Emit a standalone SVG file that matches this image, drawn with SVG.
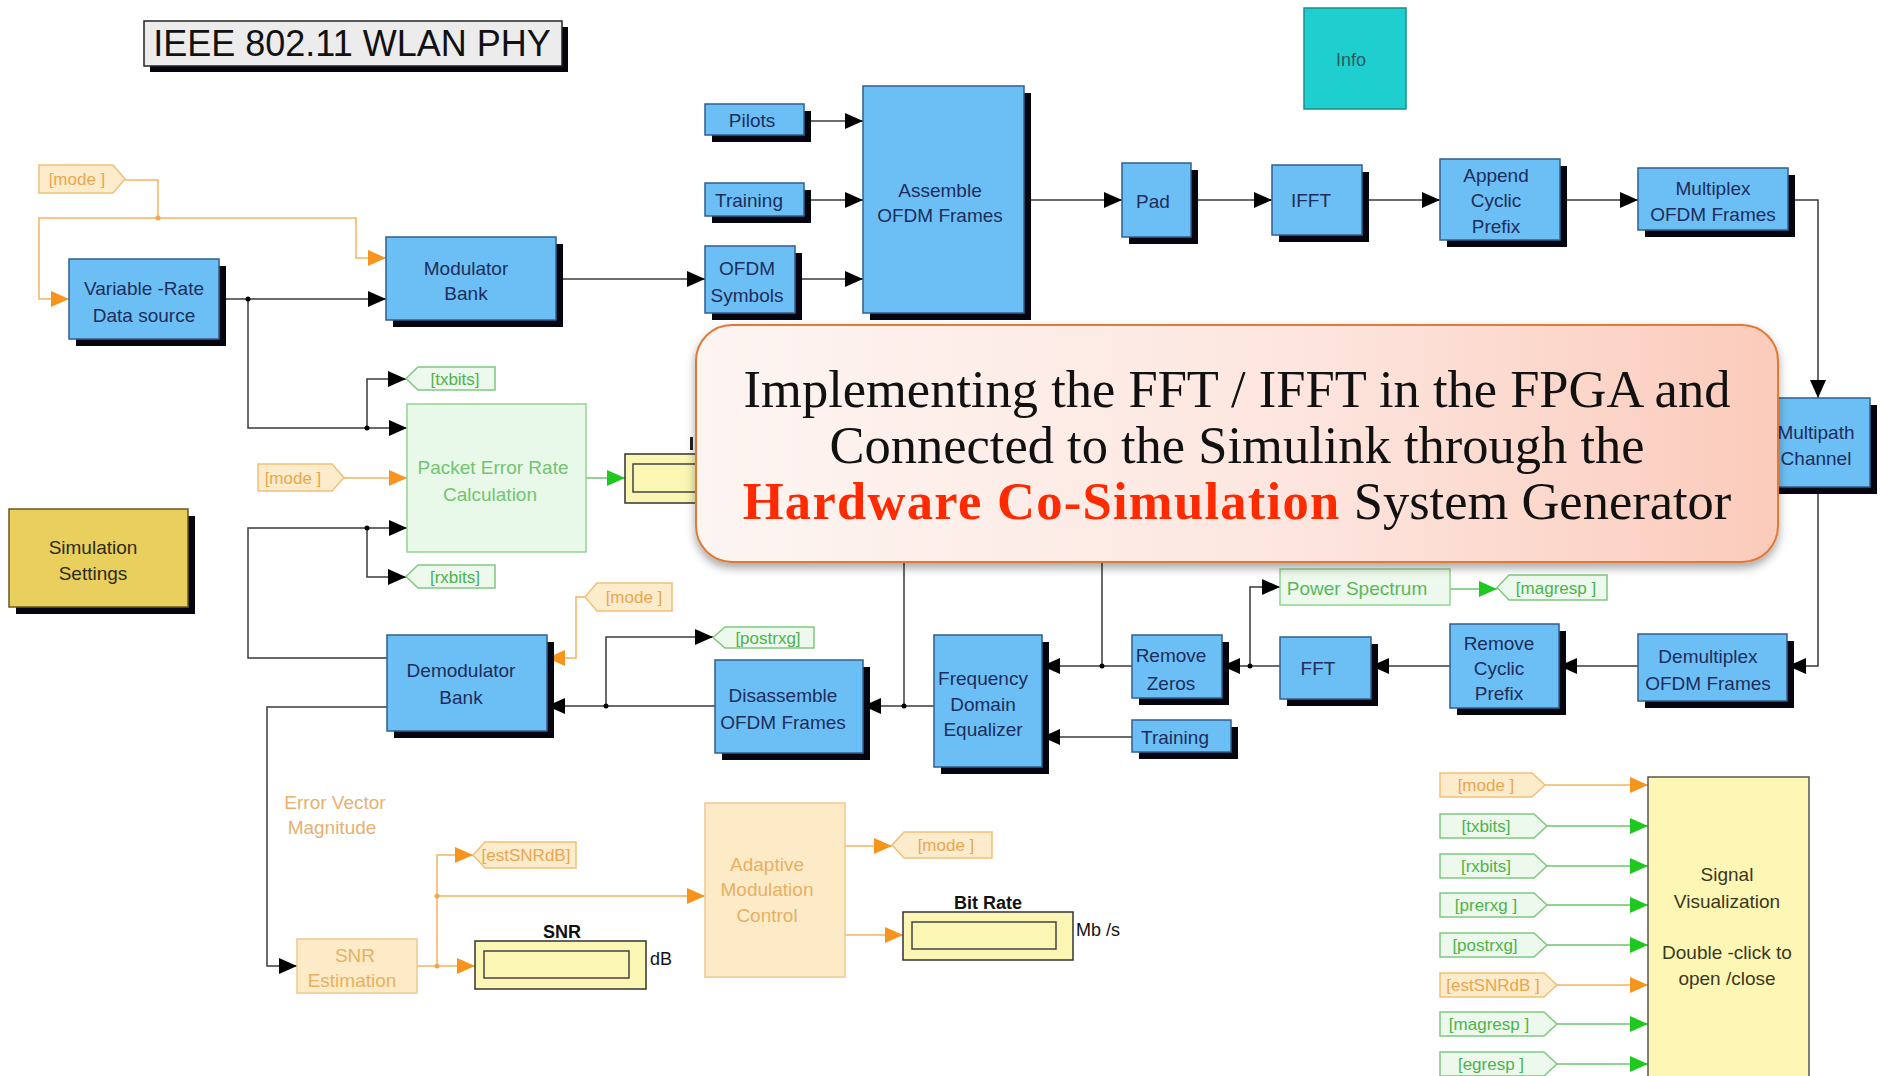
<svg xmlns="http://www.w3.org/2000/svg" width="1887" height="1076" viewBox="0 0 1887 1076">
<defs>
  <style>
    .face{fill:#6cbff4;stroke:#2f5f8f;stroke-width:1.5}
    .shd{fill:#05050f}
    .bt{font-family:"Liberation Sans",Arial,sans-serif;font-size:19px;fill:#1d2d5c;text-anchor:middle}
    .wire{fill:none;stroke:#3a3a3a;stroke-width:1.5}
    .wo{fill:none;stroke:#f2b45e;stroke-width:1.5}
    .wg{fill:none;stroke:#6cc46c;stroke-width:1.5}
    .tago{fill:#fdeccb;stroke:#f0c078;stroke-width:1.5}
    .tagg{fill:#ecf9ec;stroke:#80c880;stroke-width:1.5}
    .tt{font-family:"Liberation Sans",Arial,sans-serif;font-size:17px;text-anchor:middle}
    .tto{fill:#eaa64e}
    .ttg{fill:#4db34d}
    .disp{fill:#fbf6b4;stroke:#333;stroke-width:1.5}
    .dispin{fill:#fbf6b4;stroke:#444;stroke-width:1.5}
    .lbl{font-family:"Liberation Sans",Arial,sans-serif;font-size:18px;fill:#111}
    .co{font-family:"Liberation Serif","Times New Roman",serif;font-size:52.5px;fill:#111;text-anchor:middle}
  </style>
  <marker id="ab" viewBox="0 0 18 16" refX="18" refY="8" markerWidth="18" markerHeight="16" markerUnits="userSpaceOnUse" orient="auto"><path d="M0,0L18,8L0,16z" fill="#000"/></marker>
  <marker id="ao" viewBox="0 0 18 16" refX="18" refY="8" markerWidth="18" markerHeight="16" markerUnits="userSpaceOnUse" orient="auto"><path d="M0,0L18,8L0,16z" fill="#f7941d"/></marker>
  <marker id="ag" viewBox="0 0 18 16" refX="18" refY="8" markerWidth="18" markerHeight="16" markerUnits="userSpaceOnUse" orient="auto"><path d="M0,0L18,8L0,16z" fill="#1ec81e"/></marker>
  <linearGradient id="coFill" x1="0" y1="0" x2="1" y2="0">
    <stop offset="0" stop-color="#fdf5f2"/>
    <stop offset="0.55" stop-color="#fde6df"/>
    <stop offset="1" stop-color="#fbcbbb"/>
  </linearGradient>
  <filter id="coShadow" x="-5%" y="-10%" width="110%" height="130%">
    <feDropShadow dx="0" dy="5" stdDeviation="5" flood-color="#000" flood-opacity="0.35"/>
  </filter>
</defs>

<rect width="1887" height="1076" fill="#ffffff"/>

<!-- title banner -->
<g id="title">
  <rect x="150" y="27" width="418" height="45" class="shd"/>
  <rect x="144" y="21" width="418" height="45" fill="#ececec" stroke="#222" stroke-width="1.5"/>
  <text x="352" y="56" font-family="Liberation Sans, Arial, sans-serif" font-size="36" fill="#111" text-anchor="middle">IEEE 802.11 WLAN PHY</text>
</g>

<g id="info">
  <rect x="1304" y="8" width="102" height="101" fill="#1fcfcf" stroke="#168f8f" stroke-width="1.5"/>
  <text x="1351" y="66" font-family="Liberation Sans, Arial, sans-serif" font-size="18" fill="#2a5a60" text-anchor="middle">Info</text>
</g>

<!-- connectors -->
<g id="connectors">
  <!-- transmitter, black -->
  <path class="wire" d="M219,299H386" marker-end="url(#ab)"/>
  <path class="wire" d="M248,299V428H407" marker-end="url(#ab)"/>
  <path class="wire" d="M367,428V379H406" marker-end="url(#ab)"/>
  <path class="wire" d="M556,279H705" marker-end="url(#ab)"/>
  <path class="wire" d="M804,121H863" marker-end="url(#ab)"/>
  <path class="wire" d="M804,200H863" marker-end="url(#ab)"/>
  <path class="wire" d="M795,279H863" marker-end="url(#ab)"/>
  <path class="wire" d="M1024,200H1122" marker-end="url(#ab)"/>
  <path class="wire" d="M1191,200H1272" marker-end="url(#ab)"/>
  <path class="wire" d="M1362,200H1440" marker-end="url(#ab)"/>
  <path class="wire" d="M1560,200H1638" marker-end="url(#ab)"/>
  <path class="wire" d="M1788,200H1818V398" marker-end="url(#ab)"/>
  <!-- receiver, black -->
  <path class="wire" d="M1818,487V666H1788" marker-end="url(#ab)"/>
  <path class="wire" d="M1638,666H1559" marker-end="url(#ab)"/>
  <path class="wire" d="M1450,666H1371" marker-end="url(#ab)"/>
  <path class="wire" d="M1280,666H1222" marker-end="url(#ab)"/>
  <path class="wire" d="M1250,666V587H1280" marker-end="url(#ab)"/>
  <path class="wire" d="M1132,666H1042" marker-end="url(#ab)"/>
  <path class="wire" d="M1102,666V500"/>
  <path class="wire" d="M1132,737H1042" marker-end="url(#ab)"/>
  <path class="wire" d="M934,706H863" marker-end="url(#ab)"/>
  <path class="wire" d="M904,706V500"/>
  <path class="wire" d="M715,706H547" marker-end="url(#ab)"/>
  <path class="wire" d="M606,706V637H713" marker-end="url(#ab)"/>
  <path class="wire" d="M387,658H248V528H407" marker-end="url(#ab)"/>
  <path class="wire" d="M367,528V577H406" marker-end="url(#ab)"/>
  <path class="wire" d="M387,707H267V966H297" marker-end="url(#ab)"/>
  <!-- mode / SNR signals, orange -->
  <path class="wo" d="M125,180H158V218"/>
  <path class="wo" d="M158,218H356V258H386" marker-end="url(#ao)"/>
  <path class="wo" d="M158,218H39V299H69" marker-end="url(#ao)"/>
  <path class="wo" d="M344,478H407" marker-end="url(#ao)"/>
  <path class="wo" d="M585,597H576V658H547" marker-end="url(#ao)"/>
  <path class="wo" d="M417,966H475" marker-end="url(#ao)"/>
  <path class="wo" d="M437,966V855H473" marker-end="url(#ao)"/>
  <path class="wo" d="M437,896H705" marker-end="url(#ao)"/>
  <path class="wo" d="M845,846H892" marker-end="url(#ao)"/>
  <path class="wo" d="M845,935H903" marker-end="url(#ao)"/>
  <path class="wo" d="M1545,785H1648" marker-end="url(#ao)"/>
  <path class="wo" d="M1557,985H1648" marker-end="url(#ao)"/>
  <!-- measurement signals, green -->
  <path class="wg" d="M586,478H625" marker-end="url(#ag)"/>
  <path class="wg" d="M1450,589H1497" marker-end="url(#ag)"/>
  <path class="wg" d="M1547,826H1648" marker-end="url(#ag)"/>
  <path class="wg" d="M1547,866H1648" marker-end="url(#ag)"/>
  <path class="wg" d="M1547,905H1648" marker-end="url(#ag)"/>
  <path class="wg" d="M1547,945H1648" marker-end="url(#ag)"/>
  <path class="wg" d="M1557,1024H1648" marker-end="url(#ag)"/>
  <path class="wg" d="M1557,1064H1648" marker-end="url(#ag)"/>
  <!-- branch points -->
  <g fill="#000">
    <circle cx="248" cy="299" r="2.5"/><circle cx="367" cy="428" r="2.5"/>
    <circle cx="367" cy="528" r="2.5"/><circle cx="606" cy="706" r="2.5"/>
    <circle cx="904" cy="706" r="2.5"/><circle cx="1102" cy="666" r="2.5"/>
    <circle cx="1250" cy="666" r="2.5"/>
  </g>
  <g fill="#f2a84a">
    <circle cx="158" cy="218" r="2.5"/><circle cx="437" cy="966" r="2.5"/><circle cx="437" cy="896" r="2.5"/>
  </g>
</g>

<!-- transmitter blocks -->
<g id="vrds"><rect x="76" y="266" width="150" height="80" class="shd"/><rect x="69" y="259" width="150" height="80" class="face"/>
  <text class="bt" x="144" y="295">Variable -Rate</text><text class="bt" x="144" y="322">Data source</text></g>
<g id="modbank"><rect x="393" y="244" width="170" height="83" class="shd"/><rect x="386" y="237" width="170" height="83" class="face"/>
  <text class="bt" x="466" y="275">Modulator</text><text class="bt" x="466" y="300">Bank</text></g>
<g id="pilots"><rect x="712" y="111" width="99" height="31" class="shd"/><rect x="705" y="104" width="99" height="31" class="face"/>
  <text class="bt" x="752" y="127">Pilots</text></g>
<g id="training-tx"><rect x="712" y="190" width="99" height="33" class="shd"/><rect x="705" y="183" width="99" height="33" class="face"/>
  <text class="bt" x="749" y="207">Training</text></g>
<g id="ofdm-symbols"><rect x="712" y="253" width="90" height="67" class="shd"/><rect x="705" y="246" width="90" height="67" class="face"/>
  <text class="bt" x="747" y="275">OFDM</text><text class="bt" x="747" y="302">Symbols</text></g>
<g id="assemble"><rect x="870" y="93" width="161" height="227" class="shd"/><rect x="863" y="86" width="161" height="227" class="face"/>
  <text class="bt" x="940" y="197">Assemble</text><text class="bt" x="940" y="222">OFDM Frames</text></g>
<g id="pad"><rect x="1129" y="170" width="69" height="74" class="shd"/><rect x="1122" y="163" width="69" height="74" class="face"/>
  <text class="bt" x="1153" y="208">Pad</text></g>
<g id="ifft"><rect x="1279" y="172" width="90" height="70" class="shd"/><rect x="1272" y="165" width="90" height="70" class="face"/>
  <text class="bt" x="1311" y="207">IFFT</text></g>
<g id="append-cp"><rect x="1447" y="166" width="120" height="81" class="shd"/><rect x="1440" y="159" width="120" height="81" class="face"/>
  <text class="bt" x="1496" y="182">Append</text><text class="bt" x="1496" y="207">Cyclic</text><text class="bt" x="1496" y="233">Prefix</text></g>
<g id="multiplex"><rect x="1645" y="175" width="150" height="62" class="shd"/><rect x="1638" y="168" width="150" height="62" class="face"/>
  <text class="bt" x="1713" y="195">Multiplex</text><text class="bt" x="1713" y="221">OFDM Frames</text></g>
<g id="multipath"><rect x="1773" y="405" width="104" height="89" class="shd"/><rect x="1766" y="398" width="104" height="89" class="face"/>
  <text class="bt" x="1816" y="439">Multipath</text><text class="bt" x="1816" y="465">Channel</text></g>

<!-- receiver blocks -->
<g id="demultiplex"><rect x="1645" y="641" width="149" height="67" class="shd"/><rect x="1638" y="634" width="149" height="67" class="face"/>
  <text class="bt" x="1708" y="663">Demultiplex</text><text class="bt" x="1708" y="690">OFDM Frames</text></g>
<g id="remove-cp"><rect x="1457" y="631" width="109" height="84" class="shd"/><rect x="1450" y="624" width="109" height="84" class="face"/>
  <text class="bt" x="1499" y="650">Remove</text><text class="bt" x="1499" y="675">Cyclic</text><text class="bt" x="1499" y="700">Prefix</text></g>
<g id="fft"><rect x="1287" y="644" width="91" height="62" class="shd"/><rect x="1280" y="637" width="91" height="62" class="face"/>
  <text class="bt" x="1318" y="675">FFT</text></g>
<g id="remove-zeros"><rect x="1139" y="642" width="90" height="63" class="shd"/><rect x="1132" y="635" width="90" height="63" class="face"/>
  <text class="bt" x="1171" y="662">Remove</text><text class="bt" x="1171" y="690">Zeros</text></g>
<g id="training-rx"><rect x="1139" y="727" width="99" height="32" class="shd"/><rect x="1132" y="720" width="99" height="32" class="face"/>
  <text class="bt" x="1175" y="744">Training</text></g>
<g id="fde"><rect x="941" y="642" width="108" height="132" class="shd"/><rect x="934" y="635" width="108" height="132" class="face"/>
  <text class="bt" x="983" y="685">Frequency</text><text class="bt" x="983" y="711">Domain</text><text class="bt" x="983" y="736">Equalizer</text></g>
<g id="disassemble"><rect x="722" y="667" width="148" height="93" class="shd"/><rect x="715" y="660" width="148" height="93" class="face"/>
  <text class="bt" x="783" y="702">Disassemble</text><text class="bt" x="783" y="729">OFDM Frames</text></g>
<g id="demodbank"><rect x="394" y="642" width="160" height="96" class="shd"/><rect x="387" y="635" width="160" height="96" class="face"/>
  <text class="bt" x="461" y="677">Demodulator</text><text class="bt" x="461" y="704">Bank</text></g>

<g id="sim-settings"><rect x="16" y="516" width="179" height="98" class="shd"/><rect x="9" y="509" width="179" height="98" fill="#e9cf5d" stroke="#6b5a1a" stroke-width="1.5"/>
  <text class="bt" x="93" y="554" style="fill:#2e2a1a">Simulation</text><text class="bt" x="93" y="580" style="fill:#2e2a1a">Settings</text></g>

<!-- packet error rate -->
<g id="per">
  <rect x="407" y="404" width="179" height="148" fill="#e9f9e9" stroke="#92d492" stroke-width="1.5"/>
  <text class="bt" x="493" y="474" style="fill:#72c472">Packet Error Rate</text>
  <text class="bt" x="490" y="501" style="fill:#72c472">Calculation</text>
</g>
<g id="per-display">
  <rect x="625" y="454" width="120" height="49" class="disp"/>
  <rect x="633" y="464" width="100" height="28" class="dispin"/>
  <rect x="690" y="437" width="3" height="13" fill="#222"/>
</g>

<!-- goto / from tags -->
<g id="tag-mode-a"><path class="tago" d="M39,165H113L125,179L113,193H39z"/><text class="tt tto" x="77" y="185">[mode ]</text></g>
<g id="tag-txbits"><path class="tagg" d="M406,378.5L418,367H495V390H418z"/><text class="tt ttg" x="455" y="385">[txbits]</text></g>
<g id="tag-mode-b"><path class="tago" d="M258,464H332L344,477.5L332,491H258z"/><text class="tt tto" x="293" y="484">[mode ]</text></g>
<g id="tag-rxbits"><path class="tagg" d="M406,576.5L418,565H495V588H418z"/><text class="tt ttg" x="455" y="583">[rxbits]</text></g>
<g id="tag-mode-c"><path class="tago" d="M585,597L597,583H672V611H597z"/><text class="tt tto" x="634" y="603">[mode ]</text></g>
<g id="tag-postrxg"><path class="tagg" d="M713,637.5L725,627H814V648H725z"/><text class="tt ttg" x="768" y="644">[postrxg]</text></g>
<g id="tag-magresp"><path class="tagg" d="M1497,587.5L1509,575H1607V600H1509z"/><text class="tt ttg" x="1556" y="594">[magresp ]</text></g>
<g id="tag-estsnr"><path class="tago" d="M473,855L485,842H576V868H485z"/><text class="tt tto" x="526" y="861">[estSNRdB]</text></g>
<g id="tag-mode-d"><path class="tago" d="M892,845L904,832H992V858H904z"/><text class="tt tto" x="946" y="851">[mode ]</text></g>

<!-- error vector magnitude -->
<g id="evm-label">
  <text x="335" y="809" font-family="Liberation Sans, Arial, sans-serif" font-size="19" fill="#e8b070" text-anchor="middle">Error Vector</text>
  <text x="332" y="834" font-family="Liberation Sans, Arial, sans-serif" font-size="19" fill="#e8b070" text-anchor="middle">Magnitude</text>
</g>
<g id="snr-est">
  <rect x="297" y="939" width="120" height="54" fill="#fdebc8" stroke="#f0c890" stroke-width="1.5"/>
  <text class="bt" x="355" y="962" style="fill:#e8b060">SNR</text>
  <text class="bt" x="352" y="987" style="fill:#e8b060">Estimation</text>
</g>
<g id="snr-display">
  <text class="lbl" x="562" y="938" text-anchor="middle" font-weight="bold">SNR</text>
  <rect x="475" y="941" width="171" height="48" class="disp"/>
  <rect x="484" y="951" width="145" height="27" class="dispin"/>
  <text class="lbl" x="650" y="965">dB</text>
</g>
<g id="amc">
  <rect x="705" y="803" width="140" height="174" fill="#fdebc8" stroke="#f0c890" stroke-width="1.5"/>
  <text class="bt" x="767" y="871" style="fill:#e8b060">Adaptive</text>
  <text class="bt" x="767" y="896" style="fill:#e8b060">Modulation</text>
  <text class="bt" x="767" y="922" style="fill:#e8b060">Control</text>
</g>
<g id="bitrate-display">
  <text class="lbl" x="988" y="909" text-anchor="middle" font-weight="bold">Bit Rate</text>
  <rect x="903" y="912" width="170" height="48" class="disp"/>
  <rect x="912" y="922" width="144" height="27" class="dispin"/>
  <text class="lbl" x="1076" y="936">Mb /s</text>
</g>

<g id="power-spectrum">
  <rect x="1280" y="569" width="170" height="36" fill="#ecf9ec" stroke="#92d492" stroke-width="1.5"/>
  <text class="bt" x="1357" y="595" style="fill:#5ab85a">Power Spectrum</text>
</g>

<!-- visualization inputs -->
<g id="vis-tags">
  <path class="tago" d="M1440,773H1532L1545,785L1532,797H1440z"/><text class="tt tto" x="1486" y="791">[mode ]</text>
  <path class="tagg" d="M1440,814H1534L1547,826L1534,838H1440z"/><text class="tt ttg" x="1486" y="832">[txbits]</text>
  <path class="tagg" d="M1440,854H1534L1547,866L1534,878H1440z"/><text class="tt ttg" x="1486" y="872">[rxbits]</text>
  <path class="tagg" d="M1440,893H1534L1547,905L1534,917H1440z"/><text class="tt ttg" x="1486" y="911">[prerxg ]</text>
  <path class="tagg" d="M1440,933H1534L1547,945L1534,957H1440z"/><text class="tt ttg" x="1485" y="951">[postrxg]</text>
  <path class="tago" d="M1440,973H1544L1557,985L1544,997H1440z"/><text class="tt tto" x="1493" y="991">[estSNRdB ]</text>
  <path class="tagg" d="M1440,1012H1544L1557,1024L1544,1036H1440z"/><text class="tt ttg" x="1489" y="1030">[magresp ]</text>
  <path class="tagg" d="M1440,1052H1544L1557,1064L1544,1076H1440z"/><text class="tt ttg" x="1491" y="1070">[egresp ]</text>
</g>
<g id="signal-vis">
  <rect x="1648" y="777" width="161" height="305" fill="#fdf6b4" stroke="#555" stroke-width="1.5"/>
  <text class="bt" x="1727" y="881" style="fill:#3a3820">Signal</text>
  <text class="bt" x="1727" y="908" style="fill:#3a3820">Visualization</text>
  <text class="bt" x="1727" y="959" style="fill:#3a3820">Double -click to</text>
  <text class="bt" x="1727" y="985" style="fill:#3a3820">open /close</text>
</g>

<!-- overlaid note -->
<g id="note">
  <rect x="696" y="325" width="1082" height="237" rx="36" ry="36" fill="url(#coFill)" stroke="#e07a34" stroke-width="2" filter="url(#coShadow)"/>
  <text class="co" x="1237" y="407">Implementing the FFT / IFFT in the FPGA and</text>
  <text class="co" x="1237" y="463">Connected to the Simulink through the</text>
  <text class="co" x="1237" y="519"><tspan fill="#ff2a00" font-weight="bold" letter-spacing="1.3">Hardware Co-Simulation</tspan> System Generator</text>
</g>
</svg>
